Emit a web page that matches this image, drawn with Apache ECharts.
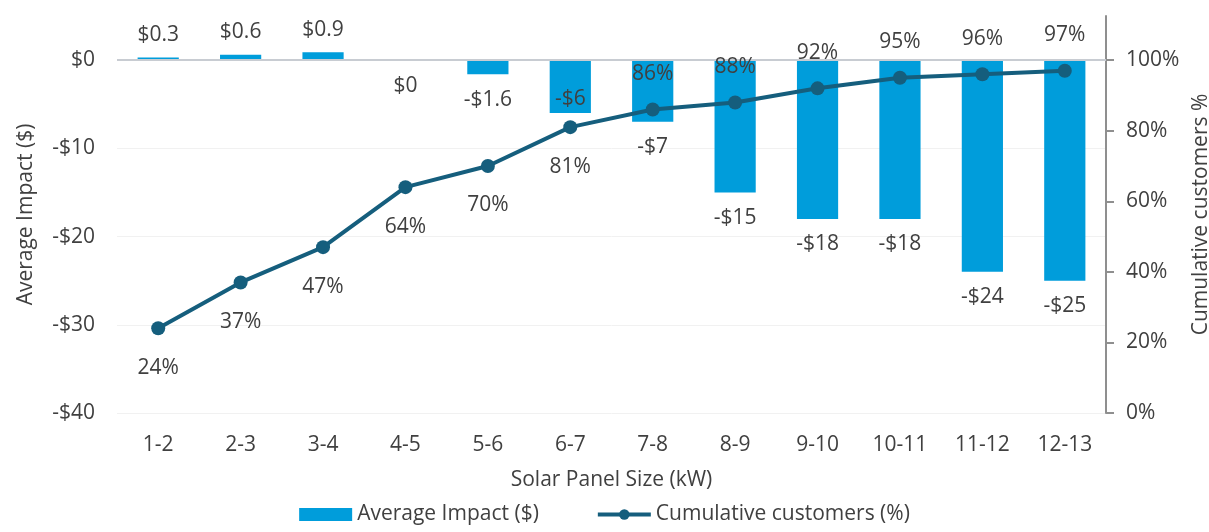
<!DOCTYPE html>
<html>
<head>
<meta charset="utf-8">
<script src="https://cdn.jsdelivr.net/npm/echarts@6/dist/echarts.min.js"></script>
<style>
  html, body { margin: 0; padding: 0; background: #fff; }
  #chart { width: 1209px; height: 532px; }
</style>
</head>
<body>
<div id="chart"></div>
<script>
// Panel size bands (kW)
const categories = ['1-2', '2-3', '3-4', '4-5', '5-6', '6-7', '7-8', '8-9', '9-10', '10-11', '11-12', '12-13'];
// Average bill impact per band ($)
const averageImpact = [0.3, 0.6, 0.9, 0, -1.6, -6, -7, -15, -18, -18, -24, -25];
// Cumulative share of customers (%)
const cumulativeCustomers = [24, 37, 47, 64, 70, 81, 86, 88, 92, 95, 96, 97];

const FONT = '"Open Sans", "Liberation Sans", sans-serif';
const TEXT = '#404040';
const FS = 21;
const LINE_COLOR = '#155e7d';

function money(v) {
  if (v === 0) return '$0';
  return (v < 0 ? '-' : '') + '$' + Math.abs(v);
}

// Bar value labels sit past the bar end; the 6-7 label is tucked inside its bar.
const barItems = averageImpact.map((v, i) => {
  let position = v > 0 ? 'top' : 'bottom';
  let distance = v > 0 ? 12 : 15;
  if (categories[i] === '6-7') { position = 'insideBottom'; distance = 4; }
  return { value: v, label: { position, distance } };
});

// Line labels below the first six points, above the rest.
const lineItems = cumulativeCustomers.map((v, i) => ({
  value: v,
  label: { position: i < 6 ? 'bottom' : 'top', distance: i < 6 ? 22 : 18 }
}));

const chart = echarts.init(document.getElementById('chart'), null, { renderer: 'canvas' });

chart.setOption({
  animation: false,
  textStyle: { fontFamily: FONT, color: TEXT },
  grid: { left: 117, right: 103, top: 16, bottom: 119, outerBoundsMode: 'none', containLabel: false },
  legend: {
    bottom: 2,
    left: 'center',
    itemWidth: 53,
    itemHeight: 13,
    itemGap: 57,
    textStyle: { fontFamily: FONT, fontSize: FS, color: TEXT },
    data: [
      { name: 'Average Impact ($)', icon: 'rect', itemStyle: { color: '#009ddb' } },
      { name: 'Cumulative customers (%)', lineStyle: { width: 4, color: LINE_COLOR } }
    ]
  },
  xAxis: {
    type: 'category',
    data: categories,
    axisLine: { show: false },
    axisTick: { show: false },
    axisLabel: { fontFamily: FONT, fontSize: FS, color: TEXT, margin: 22 },
    name: 'Solar Panel Size (kW)',
    nameLocation: 'middle',
    nameGap: 57,
    nameTextStyle: { fontFamily: FONT, fontSize: FS, color: TEXT }
  },
  yAxis: [
    {
      type: 'value',
      min: -40,
      max: 5,
      interval: 10,
      axisLine: { show: false },
      axisTick: { show: false },
      axisLabel: {
        fontFamily: FONT, fontSize: FS, color: TEXT, margin: 22,
        formatter: v => (v % 10 === 0 ? money(v) : '')
      },
      splitLine: { show: true, showMaxLine: false, lineStyle: { color: '#f1f1f1', width: 1 } },
      name: 'Average Impact ($)',
      nameLocation: 'middle',
      nameRotate: 90,
      nameGap: 80,
      nameTextStyle: { fontFamily: FONT, fontSize: FS, color: TEXT }
    },
    {
      type: 'value',
      min: 0,
      max: 112.5,
      interval: 20,
      position: 'right',
      axisLine: { show: true, lineStyle: { color: '#8f8f8f', width: 2 } },
      axisTick: { show: true, length: 8, customValues: [0, 20, 40, 60, 80, 100], lineStyle: { color: '#8f8f8f', width: 2 } },
      axisLabel: {
        fontFamily: FONT, fontSize: FS, color: TEXT, margin: 20,
        formatter: v => (v % 20 === 0 ? v + '%' : '')
      },
      splitLine: { show: false },
      name: 'Cumulative customers %',
      nameLocation: 'middle',
      nameRotate: 90,
      nameGap: 84,
      nameTextStyle: { fontFamily: FONT, fontSize: FS, color: TEXT }
    }
  ],
  series: [
    {
      name: 'Average Impact ($)',
      type: 'bar',
      yAxisIndex: 0,
      barWidth: '50%',
      itemStyle: { color: '#009ddb' },
      label: {
        show: true,
        fontFamily: FONT, fontSize: FS, color: TEXT,
        formatter: p => money(p.value)
      },
      data: barItems,
      markLine: {
        silent: true,
        symbol: 'none',
        label: { show: false },
        lineStyle: { color: '#c8ccd2', width: 2, type: 'solid' },
        data: [{ yAxis: 0 }]
      }
    },
    {
      name: 'Cumulative customers (%)',
      type: 'line',
      yAxisIndex: 1,
      symbol: 'circle',
      symbolSize: 14,
      lineStyle: { color: LINE_COLOR, width: 4 },
      itemStyle: { color: LINE_COLOR },
      label: {
        show: true,
        fontFamily: FONT, fontSize: FS, color: TEXT,
        formatter: p => p.value + '%'
      },
      data: lineItems,
      z: 5
    }
  ]
});
</script>
</body>
</html>
